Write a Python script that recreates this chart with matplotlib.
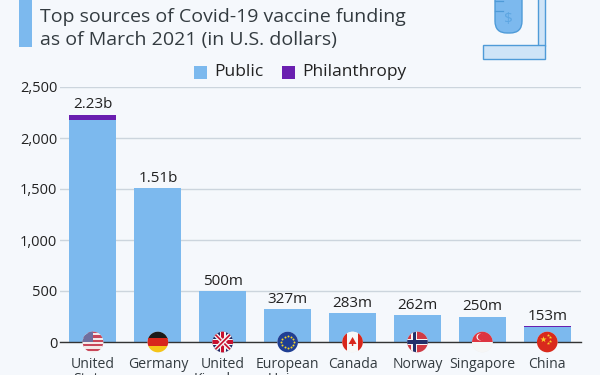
import numpy as np
import matplotlib
matplotlib.use("Agg")
import matplotlib.pyplot as plt
from matplotlib.patches import Circle, Rectangle, FancyBboxPatch, Polygon

countries = ["United\nStates", "Germany", "United\nKingdom", "European\nUnion",
             "Canada", "Norway", "Singapore", "China"]
public = [2172, 1510, 500, 327, 283, 262, 250, 146]
philanthropy = [58, 0, 0, 0, 0, 0, 0, 7]
value_labels = ["2.23b", "1.51b", "500m", "327m", "283m", "262m", "250m", "153m"]
y_ticks = [0, 500, 1000, 1500, 2000, 2500]

BG = "#f5f8fc"
BLUE = "#7cb9ee"
PURPLE = "#6a1fb0"
TEXT = "#333b40"

plt.rcParams['font.family'] = ['Open Sans', 'DejaVu Sans']

W, H = 600, 375
fig = plt.figure(figsize=(6, 3.75), dpi=100, facecolor=BG)
ax = fig.add_axes([60 / W, 1 - 342 / H, (581 - 60) / W, 255 / H], facecolor=BG)

# overlay in pixel coordinates for the header art and the flags
ov = fig.add_axes([0, 0, 1, 1], facecolor='none')
ov.set_xlim(0, W)
ov.set_ylim(H, 0)
ov.axis('off')

x = np.arange(len(countries))
ax.bar(x, public, width=0.725, color=BLUE, zorder=2)
ax.bar(x, philanthropy, width=0.725, bottom=public, color=PURPLE, zorder=2)
for i, label in enumerate(value_labels):
    ax.annotate(label, (x[i], public[i] + philanthropy[i]), xytext=(0, 1.5),
                textcoords='offset points', ha='center', va='bottom',
                fontsize=11, color='#222222')

ax.set_xlim(-0.508, 7.52)
ax.set_ylim(0, 2500)
ax.set_yticks(y_ticks)
ax.set_yticklabels([f"{v:,}" for v in y_ticks], fontsize=10.5, color='#222222')
ax.set_xticks(x)
ax.set_xticklabels(countries, fontsize=10.1, color=TEXT, linespacing=1.05)
ax.tick_params(axis='both', length=0)
ax.tick_params(axis='x', pad=10.5)
ax.tick_params(axis='y', pad=2)
ax.grid(axis='y', color='#ccd5dd', linewidth=1, zorder=0)
for s in ['top', 'right', 'left']:
    ax.spines[s].set_visible(False)
ax.spines['bottom'].set_color('#333333')
ax.spines['bottom'].set_linewidth(1)
ax.spines['bottom'].set_zorder(3)


def stripes(cx, cy, colors, clip):
    n = len(colors)
    for k, c in enumerate(colors):
        r = Rectangle((cx - 11, cy - 11 + 22 * k / n), 22, 22 / n + 0.2, color=c, lw=0)
        ov.add_patch(r)
        r.set_clip_path(clip)


def cross(cx, cy, color, w, clip, dx=0):
    for r in [Rectangle((cx - 11, cy - w / 2), 22, w, color=color, lw=0),
              Rectangle((cx + dx - w / 2, cy - 11), w, 22, color=color, lw=0)]:
        ov.add_patch(r)
        r.set_clip_path(clip)


def draw_flag(i):
    cx, cy = ax.transData.transform((x[i], 0))
    cx = cx * W / fig.bbox.width
    cy = 342
    disc = Circle((cx, cy), 10.3, color='#eeeeee', lw=0)
    ov.add_patch(disc)
    clip = Circle((cx, cy), 10.3, transform=ov.transData)
    if i == 0:
        stripes(cx, cy, ['#c8475a', '#f4eaea'] * 5, clip)
        r = Rectangle((cx - 11, cy - 11), 11, 11, color='#6f6f9f', lw=0)
        ov.add_patch(r)
        r.set_clip_path(clip)
    elif i == 1:
        stripes(cx, cy, ['#1a1a1a', '#d8261c', '#f5c518'], clip)
    elif i == 2:
        bg = Rectangle((cx - 11, cy - 11), 22, 22, color='#232a66', lw=0)
        ov.add_patch(bg)
        bg.set_clip_path(clip)
        for sign in (1, -1):
            for col, lw in (('#f4f4f4', 3.2), ('#c8102e', 1.2)):
                ln, = ov.plot([cx - 11, cx + 11], [cy - 11 * sign, cy + 11 * sign], color=col, lw=lw)
                ln.set_clip_path(clip)
        cross(cx, cy, '#f4f4f4', 6, clip)
        cross(cx, cy, '#c8102e', 3.4, clip)
    elif i == 3:
        bg = Rectangle((cx - 11, cy - 11), 22, 22, color='#1f3f94', lw=0)
        ov.add_patch(bg)
        bg.set_clip_path(clip)
        a = np.linspace(0, 2 * np.pi, 12, endpoint=False)
        ov.scatter(cx + 6.3 * np.cos(a), cy + 6.3 * np.sin(a), s=2, color='#f5d327', lw=0)
    elif i == 4:
        for c, x0, w in (('#d8261c', -11, 5.5), ('#f7f7f7', -5.5, 11), ('#d8261c', 5.5, 5.5)):
            r = Rectangle((cx + x0, cy - 11), w, 22, color=c, lw=0)
            ov.add_patch(r)
            r.set_clip_path(clip)
        ov.add_patch(Polygon([(cx, cy - 5), (cx + 4, cy + 2), (cx + 0.7, cy + 2), (cx + 0.7, cy + 4),
                              (cx - 0.7, cy + 4), (cx - 0.7, cy + 2), (cx - 4, cy + 2)],
                             color='#d8261c', lw=0))
    elif i == 5:
        bg = Rectangle((cx - 11, cy - 11), 22, 22, color='#cf3a45', lw=0)
        ov.add_patch(bg)
        bg.set_clip_path(clip)
        cross(cx, cy, '#f4f4f4', 6, clip, dx=-3)
        cross(cx, cy, '#23306a', 3.2, clip, dx=-3)
    elif i == 6:
        stripes(cx, cy, ['#dd3340', '#f6f6f6'], clip)
        ov.add_patch(Circle((cx - 2.5, cy - 5), 3.4, color='#f6f6f6', lw=0))
        ov.add_patch(Circle((cx - 1.4, cy - 5), 3.2, color='#dd3340', lw=0))
    else:
        bg = Rectangle((cx - 11, cy - 11), 22, 22, color='#d9291c', lw=0)
        ov.add_patch(bg)
        bg.set_clip_path(clip)
        ov.scatter([cx - 4], [cy - 3], s=22, marker='*', color='#f8d32a', lw=0)
        ov.scatter([cx + 0.5, cx + 3, cx + 3, cx + 0.5], [cy - 7.5, cy - 5, cy - 1.5, cy + 1],
                   s=6, marker='*', color='#f8d32a', lw=0)


for i in range(len(countries)):
    draw_flag(i)

# header
ov.add_patch(Rectangle((18.5, 0), 13.5, 47, color=BLUE, lw=0))
ov.text(40, 17, "Top sources of Covid-19 vaccine funding", fontsize=14, color=TEXT, va='center')
ov.text(40, 40, "as of March 2021 (in U.S. dollars)", fontsize=14, color=TEXT, va='center')

# legend
ov.add_patch(Rectangle((193.5, 66), 13, 13, color=BLUE, lw=0))
ov.text(214, 72, "Public", fontsize=12.5, color='#222222', va='center')
ov.add_patch(Rectangle((282, 66), 13, 13, color=PURPLE, lw=0))
ov.text(302.5, 72, "Philanthropy", fontsize=12.5, color='#222222', va='center')

# test tube icon
EDGE = '#4f9bd8'
ov.add_patch(FancyBboxPatch((495, -15), 27, 48, boxstyle="round,pad=0,rounding_size=12",
                            fc=BLUE, ec=EDGE, lw=1))
ov.text(508, 20, "$", fontsize=11, color='#5da6e2', ha='center', va='center')
ov.plot([495, 503], [1, 1], color=EDGE, lw=0.9)
ov.plot([495, 503], [11, 11], color=EDGE, lw=0.9)
ov.add_patch(Rectangle((538, -2), 7, 48, fc='#cfe4f7', ec=EDGE, lw=1))
ov.add_patch(Rectangle((483, 45), 62, 14, fc='#cfe4f7', ec=EDGE, lw=1))

fig.savefig("out.png", dpi=100, facecolor=BG)
